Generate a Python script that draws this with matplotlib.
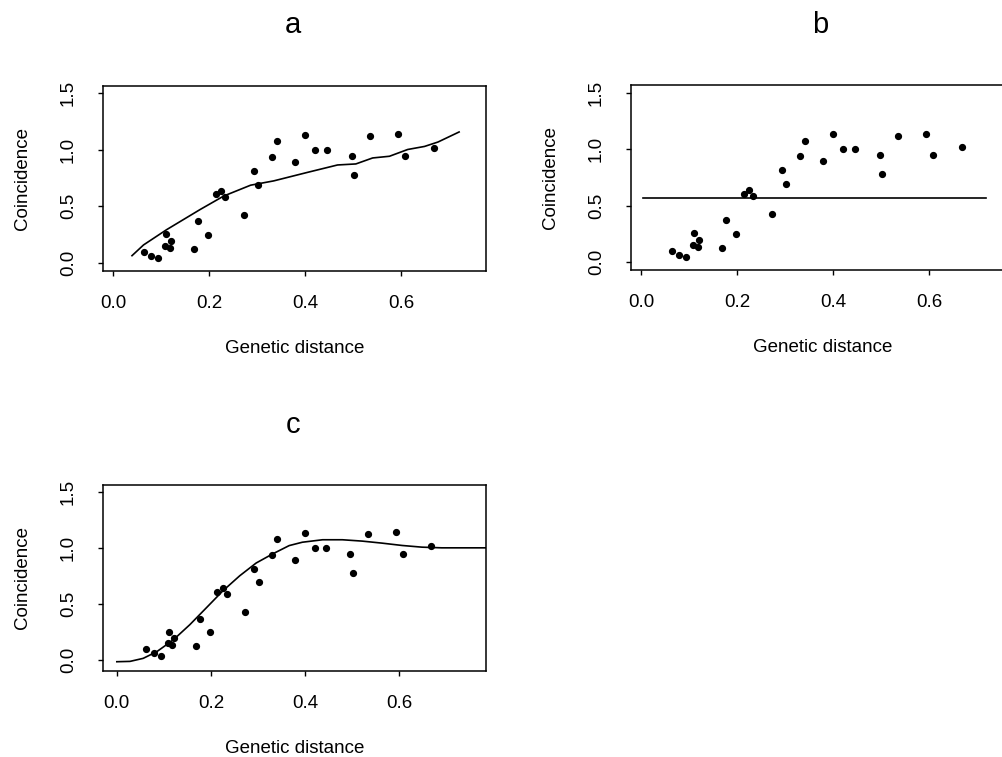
import matplotlib
matplotlib.use("Agg")
import matplotlib.pyplot as plt

plt.rcParams['font.family'] = ['Liberation Sans', 'DejaVu Sans']

# observed coincidence vs genetic distance
dist = [0.063, 0.079, 0.093, 0.110, 0.108, 0.118, 0.121, 0.169, 0.176, 0.197,
        0.213, 0.225, 0.233, 0.273, 0.292, 0.302, 0.330, 0.340, 0.378, 0.399,
        0.420, 0.444, 0.496, 0.502, 0.534, 0.593, 0.608, 0.668]
coinc = [0.099, 0.063, 0.039, 0.254, 0.152, 0.134, 0.197, 0.125, 0.367, 0.248,
         0.606, 0.639, 0.585, 0.427, 0.815, 0.693, 0.937, 1.075, 0.896, 1.134,
         1.000, 1.000, 0.949, 0.779, 1.122, 1.140, 0.946, 1.018]

# a: smoothed fit
a_x = [0.039, 0.063, 0.111, 0.181, 0.230, 0.286, 0.334, 0.404, 0.467, 0.505,
       0.540, 0.575, 0.613, 0.648, 0.676, 0.720]
a_y = [0.063, 0.158, 0.293, 0.472, 0.591, 0.687, 0.725, 0.800, 0.866, 0.875,
       0.928, 0.943, 1.003, 1.030, 1.069, 1.158]

# b: constant fit
b_x = [0.003, 0.718]
b_y = [0.567, 0.567]

# c: sigmoid-like fit
c_x = [0.0, 0.028, 0.056, 0.085, 0.120, 0.155, 0.190, 0.225, 0.261, 0.296,
       0.331, 0.366, 0.394, 0.437, 0.479, 0.521, 0.563, 0.606, 0.648, 0.690, 0.79]
c_y = [-0.015, -0.012, 0.015, 0.075, 0.180, 0.315, 0.465, 0.616, 0.751, 0.865,
       0.946, 1.020, 1.050, 1.072, 1.072, 1.060, 1.042, 1.021, 1.006, 1.000, 1.000]

xticks = [0.0, 0.2, 0.4, 0.6]
yticks = [0.0, 0.5, 1.0, 1.5]

W, H = 1003, 757
fig = plt.figure(figsize=(W / 100, H / 100), dpi=100)


def px_axes(left, top, right, bottom):
    return fig.add_axes([left / W, 1 - bottom / H, (right - left) / W, (bottom - top) / H])


def style(ax, xlim, ylim, title, tx, ty):
    ax.set_xlim(*xlim)
    ax.set_ylim(*ylim)
    ax.set_xticks(xticks)
    ax.set_xticklabels([f"{v:.1f}" for v in xticks])
    ax.set_yticks(yticks)
    ax.set_yticklabels([f"{v:.1f}" for v in yticks], rotation=90, va='center')
    ax.tick_params(axis='both', direction='out', length=3.5, width=1.0, labelsize=13.5)
    ax.tick_params(axis='x', pad=14)
    ax.tick_params(axis='y', pad=15)
    for s in ax.spines.values():
        s.set_linewidth(1.1)
    ax.set_xlabel("Genetic distance", fontsize=13.5, labelpad=20)
    ax.set_ylabel("Coincidence", fontsize=13.5, labelpad=21)
    fig.text(tx / W, 1 - ty / H, title, fontsize=21, ha='center', va='center')


ax_a = px_axes(102.7, 86, 486, 270.7)
ax_a.plot(dist, coinc, 'o', color='black', markersize=4.2)
ax_a.plot(a_x, a_y, color='black', lw=1.2)
style(ax_a, (-0.022, 0.776), (-0.07, 1.565), "a", 293, 25)

ax_b = px_axes(630.7, 85.3, 630.7 + 383.3, 270)
ax_b.plot(dist, coinc, 'o', color='black', markersize=4.2)
ax_b.plot(b_x, b_y, color='black', lw=1.2)
style(ax_b, (-0.022, 0.776), (-0.074, 1.571), "b", 820, 25)

ax_c = px_axes(102.7, 485, 486, 670.7)
ax_c.plot(dist, coinc, 'o', color='black', markersize=4.2)
ax_c.plot(c_x, c_y, color='black', lw=1.2)
style(ax_c, (-0.030, 0.784), (-0.095, 1.56), "c", 293, 425)

fig.savefig("out.png", dpi=100)
